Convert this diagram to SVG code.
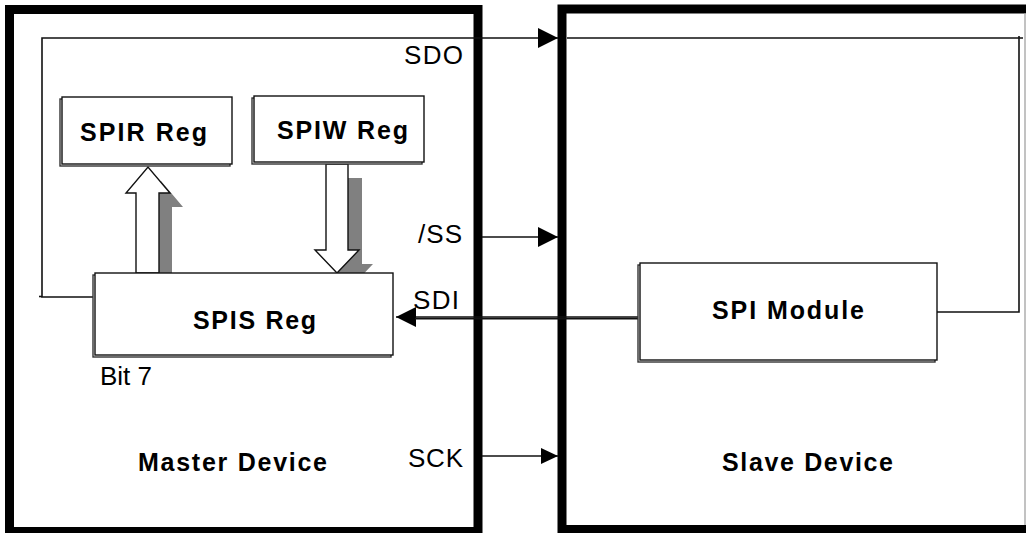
<svg xmlns="http://www.w3.org/2000/svg" width="1026" height="533" viewBox="0 0 1026 533">
<style>
.dev{fill:none;stroke:#000;stroke-width:9}
.box{fill:#fff;stroke:#111;stroke-width:1.4}
.sh{fill:#fff;stroke:#333;stroke-width:1.4}
.ln{fill:none;stroke:#111;stroke-width:1.6}
.lbl{font-family:"Liberation Sans",Arial,sans-serif;font-size:26px;fill:#000}
.bl{font-family:"Liberation Sans",Arial,sans-serif;font-size:25px;font-weight:bold;fill:#000}
.blk{fill:#fff;stroke:#111;stroke-width:1.4}
.bsh{fill:#808080;stroke:none}
</style>
<defs>
<marker id="arr" markerUnits="userSpaceOnUse" markerWidth="20" markerHeight="20" viewBox="0 0 20 20" refX="20" refY="10" orient="auto">
<path d="M0,0 L20,10 L0,20 z" fill="#000"/>
</marker>
<marker id="arrs" markerUnits="userSpaceOnUse" markerWidth="17" markerHeight="16" viewBox="0 0 17 16" refX="17" refY="8" orient="auto">
<path d="M0,0 L17,8 L0,16 z" fill="#000"/>
</marker>
</defs>

<g id="master">
<rect class="dev" x="9.5" y="9.5" width="468.5" height="522"/>
<text class="bl" x="138" y="471" textLength="189" lengthAdjust="spacing">Master Device</text>
</g>

<g id="slave">
<rect class="dev" x="562" y="9" width="480" height="520.5"/>
<line x1="1025" y1="13" x2="1025" y2="525" stroke="#999" stroke-width="1.2"/>
<text class="bl" x="722" y="471" textLength="171" lengthAdjust="spacing">Slave Device</text>
</g>

<g id="connectors">
<path class="ln" d="M93,297 H42 V38 H558" marker-end="url(#arr)"/>
<path class="ln" d="M39,296.5 H42" stroke="#555"/>
<path class="ln" d="M567,38 H1023 M1019,36 V312 H934"/>
<path class="ln" d="M482,237 H558" marker-end="url(#arr)"/>
<path class="ln" d="M642,317 H396" marker-end="url(#arr)"/>
<path class="ln" d="M642,318.6 H415" stroke="#999" stroke-width="1"/>
<path class="ln" d="M482,456 H558" marker-end="url(#arrs)"/>
<polygon class="bsh" points="149,287 149,207 139,207 161,181 183,207 172,207 172,287"/>
<polygon class="blk" points="136,273 136,193 126,193 148,167 170,193 159,193 159,273"/>
<polygon class="bsh" points="340,178 362,178 362,264 373,264 351,287 329,264 340,264"/>
<polygon class="blk" points="326,164 348,164 348,250 359,250 337,273 315,250 326,250"/>
</g>

<g id="spir">
<rect class="sh" x="60" y="99" width="170" height="67"/>
<rect class="box" x="62" y="97" width="170" height="67"/>
<text class="bl" x="80" y="141" textLength="127" lengthAdjust="spacing">SPIR Reg</text>
</g>

<g id="spiw">
<rect class="sh" x="252" y="98" width="170" height="66"/>
<rect class="box" x="254" y="96" width="170" height="66"/>
<text class="bl" x="277" y="139" textLength="131" lengthAdjust="spacing">SPIW Reg</text>
</g>

<g id="spis">
<rect class="sh" x="93" y="275" width="298" height="82"/>
<rect class="box" x="95" y="273" width="298" height="82"/>
<text class="bl" x="193" y="329" textLength="123" lengthAdjust="spacing">SPIS Reg</text>
</g>

<g id="spimod">
<rect class="sh" x="638" y="265" width="297" height="97"/>
<rect class="box" x="640" y="263" width="297" height="97"/>
<text class="bl" x="712" y="319" textLength="152" lengthAdjust="spacing">SPI Module</text>
</g>

<g id="labels">
<text class="lbl" x="404" y="64" textLength="59" lengthAdjust="spacing">SDO</text>
<text class="lbl" x="418" y="243" textLength="44" lengthAdjust="spacing">/SS</text>
<text class="lbl" x="413" y="309" textLength="46" lengthAdjust="spacing">SDI</text>
<text class="lbl" x="408" y="467" textLength="55" lengthAdjust="spacing">SCK</text>
<text class="lbl" x="100" y="385" textLength="52" lengthAdjust="spacing">Bit 7</text>
</g>
</svg>
